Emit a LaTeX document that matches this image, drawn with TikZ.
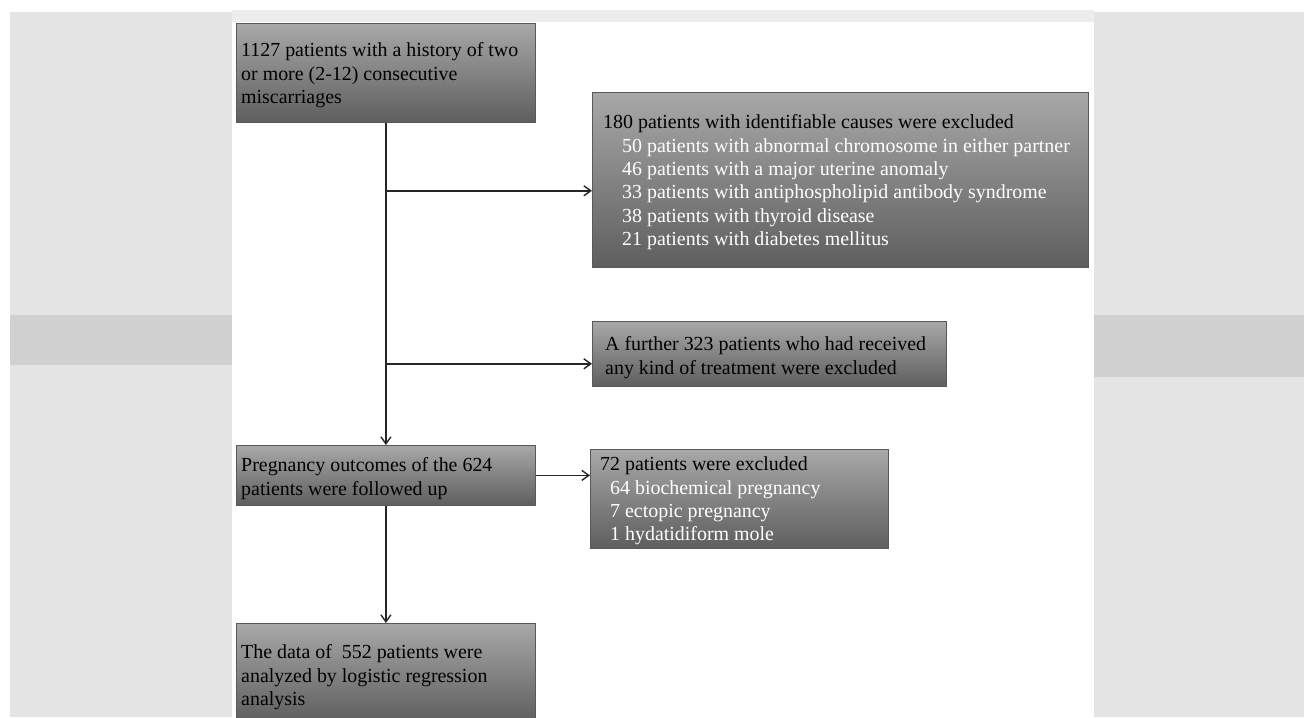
\documentclass[tikz,border=0pt]{standalone}
\usepackage{fontspec}
\setmainfont{Liberation Serif}
\usetikzlibrary{arrows.meta,calc}
\definecolor{boxtop}{HTML}{A8A8A8}
\definecolor{boxbot}{HTML}{5E5E5E}
\definecolor{panel}{HTML}{E4E4E4}
\definecolor{panelband}{HTML}{D0D0D0}
\definecolor{topstrip}{HTML}{EDEDED}
\tikzset{
  box/.style={draw=black!65, line width=0.8bp, top color=boxtop, bottom color=boxbot,
    inner sep=0pt, anchor=north west},
  txt/.style={inner sep=0pt, align=left, anchor=north west,
    font=\fontsize{20}{23.5}\selectfont},
  ln/.style={draw=black!85, line width=1.4bp},
  arr/.style={ln, -{Straight Barb[length=7bp,width=10bp]}},
}
\begin{document}
\begin{tikzpicture}[x=1bp,y=-1bp]
\useasboundingbox (0,0) rectangle (1304,717);
% background panels
\fill[panel] (10,12) rectangle (232,717);
\fill[panelband] (10,315) rectangle (232,365);
\fill[panel] (1094,12) rectangle (1304,717);
\fill[panelband] (1094,315) rectangle (1304,377);
\fill[topstrip] (232,10) rectangle (1094,22);
% boxes
\node[box, minimum width=299bp, minimum height=99bp] (b1) at (236,23) {};
\node[box, minimum width=496bp, minimum height=175bp] (b2) at (592,92) {};
\node[box, minimum width=354bp, minimum height=65bp] (b3) at (592,321) {};
\node[box, minimum width=299bp, minimum height=60bp] (b4) at (236,445) {};
\node[box, minimum width=298bp, minimum height=99bp] (b5) at (590,449) {};
\node[box, minimum width=299bp, minimum height=99bp] (b6) at (236,623) {};
% texts
\node[txt] (t1) at (241,40) {\strut 1127 patients with a history of two\\or more (2-12) consecutive\\miscarriages};
\node[txt] (t2) at (603,112) {\strut 180 patients with identifiable causes were excluded\\
  \hspace*{19bp}\textcolor{white}{50 patients with abnormal chromosome in either partner}\\
  \hspace*{19bp}\textcolor{white}{46 patients with a major uterine anomaly}\\
  \hspace*{19bp}\textcolor{white}{33 patients with antiphospholipid antibody syndrome}\\
  \hspace*{19bp}\textcolor{white}{38 patients with thyroid disease}\\
  \hspace*{19bp}\textcolor{white}{21 patients with diabetes mellitus}};
\node[txt] (t3) at (605,334) {\strut A further 323 patients who had received\\any kind of treatment were excluded};
\node[txt] (t4) at (241,455) {\strut Pregnancy outcomes of the 624\\patients were followed up};
\node[txt] (t5) at (600,454) {\strut 72 patients were excluded\\
  \hspace*{10bp}\textcolor{white}{64 biochemical pregnancy}\\
  \hspace*{10bp}\textcolor{white}{7 ectopic pregnancy}\\
  \hspace*{10bp}\textcolor{white}{1 hydatidiform mole}};
\node[txt] (t6) at (241,642) {\strut The data of \ 552 patients were\\analyzed by logistic regression\\analysis};
% connectors
\coordinate (j1) at ($(b1.south)+(0,68)$);
\coordinate (j2) at ($(b1.south)+(0,241)$);
\draw[arr] (b1.south) -- (b4.north);
\draw[arr] (j1) -- (j1 -| b2.west);
\draw[arr] (j2) -- (j2 -| b3.west);
\draw[arr] (b4.east) -- (b4.east -| b5.west);
\draw[arr] (b4.south) -- (b6.north);
\end{tikzpicture}
\end{document}
